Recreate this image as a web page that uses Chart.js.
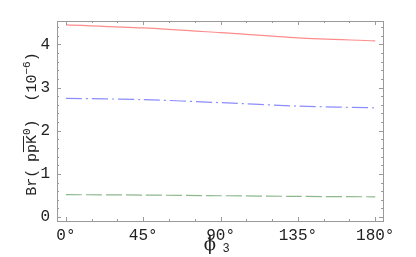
<!DOCTYPE html>
<html>
<head>
<meta charset="utf-8">
<script src="https://cdn.jsdelivr.net/npm/chart.js@4"></script>
<style>
  html, body { margin: 0; padding: 0; background: #fff; }
  #wrap { width: 416px; height: 257px; }
</style>
</head>
<body>
<div id="wrap"><canvas id="myChart" width="416" height="257"></canvas></div>
<script>
/* data */
const angles = [0, 45, 90, 135, 180];
const redVals = [4.45, 4.38, 4.27, 4.15, 4.08];
const blueVals = [2.75, 2.72, 2.65, 2.57, 2.53];
const greenVals = [0.52, 0.51, 0.495, 0.48, 0.47];
const xTickLabels = ["0°", "45°", "90°", "135°", "180°"];
const yTickLabels = ["0", "1", "2", "3", "4"];

function pts(vals) {
    return angles.map((a, i) => ({ x: a, y: vals[i] }));
}

const TICK_FONT = { family: "Liberation Mono", size: 16 };

// draws the y title piece by piece (overline + superscripts)
function drawYTitle(ctx) {
    const big = "15px 'Liberation Mono'";
    const small = "11px 'Liberation Mono'";
    const pieces = [
        { t: "Br(", f: big, dy: 0 },
        { t: " ", f: small, dy: 0 },
        { t: "p", f: big, dy: 0 },
        { t: "p", f: big, dy: 0, bar: true },
        { t: "K", f: big, dy: 0, bar: true },
        { t: "0", f: small, dy: -6 },
        { t: ")", f: big, dy: 0 },
        { t: "  ", f: big, dy: 0 },
        { t: "(10", f: big, dy: 0 },
        { t: "\u22126", f: small, dy: -6 },
        { t: ")", f: big, dy: 0 },
    ];
    let total = 0;
    pieces.forEach((p) => {
        ctx.font = p.f;
        p.w = ctx.measureText(p.t).width;
        total += p.w;
    });
    let x = -total / 2;
    ctx.textAlign = "left";
    ctx.textBaseline = "alphabetic";
    let barStart = null, barEnd = null;
    pieces.forEach((p) => {
        ctx.font = p.f;
        ctx.fillText(p.t, x, 5 + p.dy);
        if (p.bar) {
            if (barStart === null) barStart = x + 1;
            barEnd = x + p.w - 1;
        }
        x += p.w;
    });
    ctx.fillRect(barStart, -8, barEnd - barStart, 1);
}

// mathematica style frame: inward ticks on all four sides
const framePlugin = {
    id: "frame",
    afterDraw(chart) {
        const ctx = chart.ctx;
        const a = chart.chartArea;
        const xs = chart.scales.x;
        const ys = chart.scales.y;
        ctx.save();
        ctx.strokeStyle = "#9a9a9a";
        ctx.lineWidth = 1;
        ctx.strokeRect(Math.round(a.left) + 0.5, Math.round(a.top) + 0.5,
            Math.round(a.right - a.left), Math.round(a.bottom - a.top));
        ctx.beginPath();
        for (let v = 0; v <= 180; v += 15) {
            const px = Math.round(xs.getPixelForValue(v)) + 0.5;
            const len = v % 45 === 0 ? 4 : 2;
            ctx.moveTo(px, a.bottom); ctx.lineTo(px, a.bottom - len);
            ctx.moveTo(px, a.top); ctx.lineTo(px, a.top + len);
        }
        for (let k = 0; k <= 22; k++) {
            const v = k * 0.2;
            const py = Math.round(ys.getPixelForValue(v)) + 0.5;
            const len = k % 5 === 0 ? 4 : 2;
            ctx.moveTo(a.left, py); ctx.lineTo(a.left + len, py);
            ctx.moveTo(a.right, py); ctx.lineTo(a.right - len, py);
        }
        ctx.stroke();

        // axis titles
        ctx.fillStyle = "#222";
        ctx.textAlign = "center";
        ctx.textBaseline = "middle";
        ctx.font = "18px 'DejaVu Serif'";
        ctx.fillText("ϕ", 210, 245);
        ctx.font = "12px 'Liberation Mono'";
        ctx.fillText("3", 226, 249);

        ctx.translate(31, 124);
        ctx.rotate(-Math.PI / 2);
        drawYTitle(ctx);
        ctx.restore();
    }
};

const config = {
    type: "line",
    data: {
        datasets: [
            {
                data: pts(redVals),
                borderColor: "#ff8c8c",
                borderWidth: 1.2,
                pointRadius: 0,
                tension: 0.3,
            },
            {
                data: pts(blueVals),
                borderColor: "#8c8cff",
                borderWidth: 1.2,
                borderDash: [16, 4, 2, 4],
                pointRadius: 0,
                tension: 0.3,
            },
            {
                data: pts(greenVals),
                borderColor: "#8cb88c",
                borderWidth: 1.2,
                borderDash: [16, 4],
                pointRadius: 0,
                tension: 0.3,
            },
        ],
    },
    options: {
        responsive: false,
        animation: false,
        layout: { padding: { top: 21, right: 33, left: 0, bottom: 0 } },
        plugins: {
            legend: { display: false },
            tooltip: { enabled: false },
        },
        scales: {
            x: {
                type: "linear",
                min: -5.2,
                max: 184.5,
                grid: { display: false, drawTicks: false },
                border: { display: false },
                afterBuildTicks: (s) => {
                    s.ticks = angles.map((v) => ({ value: v }));
                },
                afterFit: (s) => { s.height = 36; },
                ticks: {
                    padding: 5,
                    color: "#222",
                    font: TICK_FONT,
                    maxRotation: 0,
                    autoSkip: false,
                    callback: (v) => xTickLabels[angles.indexOf(v)],
                },
            },
            y: {
                min: -0.09,
                max: 4.54,
                grid: { display: false, drawTicks: false },
                border: { display: false },
                afterBuildTicks: (s) => {
                    s.ticks = yTickLabels.map((t) => ({ value: Number(t) }));
                },
                afterFit: (s) => { s.width = 57; },
                ticks: {
                    padding: 7,
                    color: "#222",
                    font: TICK_FONT,
                    autoSkip: false,
                    callback: (v) => yTickLabels[v],
                },
            },
        },
    },
    plugins: [framePlugin],
};

const myChart = new Chart(document.getElementById("myChart"), config);
</script>
</body>
</html>
